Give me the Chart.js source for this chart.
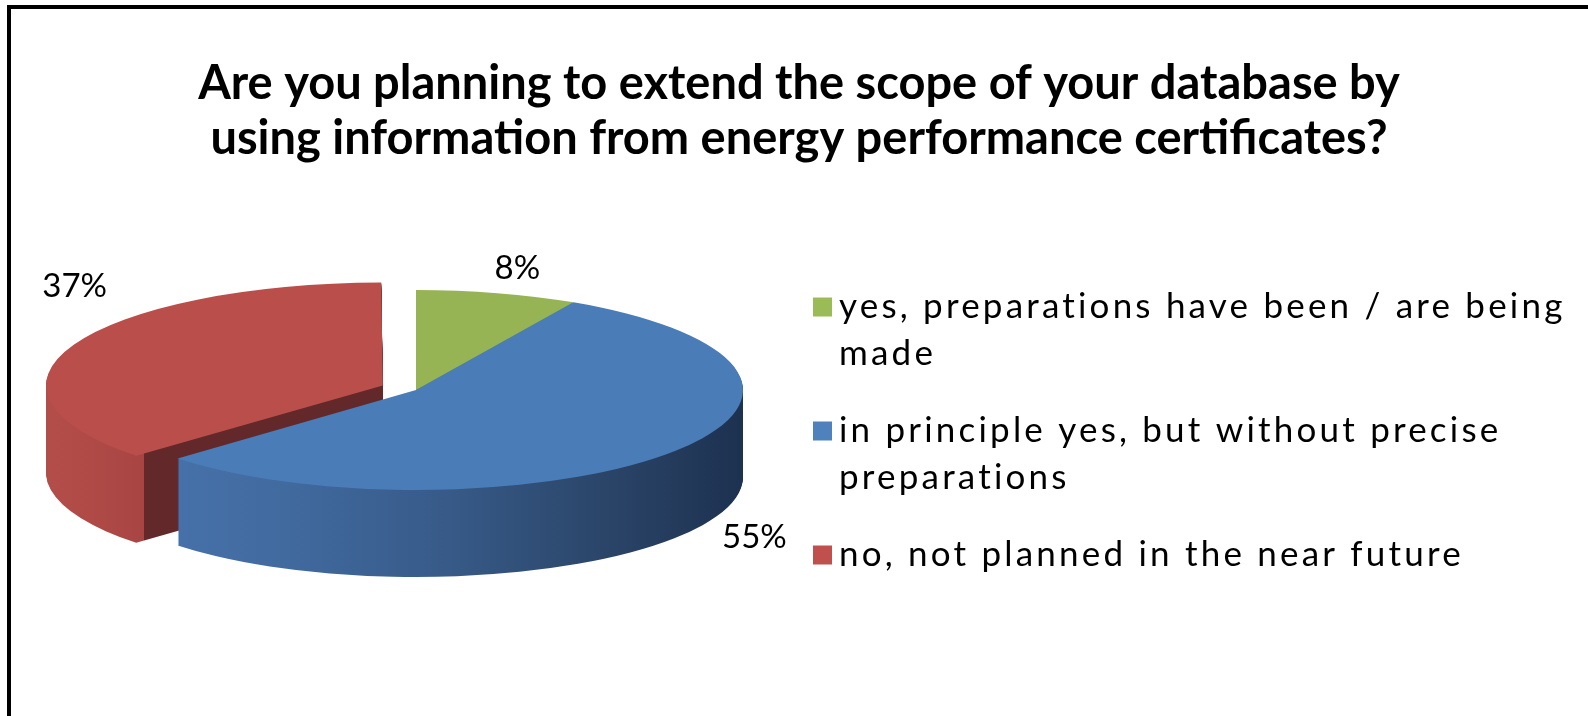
<!DOCTYPE html>
<html>
<head>
<meta charset="utf-8">
<script src="https://cdn.jsdelivr.net/npm/chart.js@4"></script>
<style>
  html, body { margin: 0; padding: 0; background: #ffffff; }
  #wrap { position: relative; width: 1588px; height: 716px; }
  canvas { display: block; }
</style>
</head>
<body>
<div id="wrap"><canvas id="c" width="1588" height="716"></canvas></div>
<script>
// ---- data ----
const categories = [
  ['yes, preparations have been / are being', 'made'],
  ['in principle yes, but without precise', 'preparations'],
  ['no, not planned in the near future']
];
const shares = [8, 55, 37];
const percentLabels = ['8%', '55%', '37%'];
const titleLines = [
  'Are you planning to extend the scope of your database by',
  'using information from energy performance certificates?'
];

// ---- styles ----
const topColors = ['#96b454', '#4a7cb7', '#b94e4b'];
const legendColors = ['#9bbb59', '#4f81bd', '#c0504d'];
const explode = [0, 0, 96];

const frame = {
  id: 'frame',
  beforeDraw(chart) {
    const ctx = chart.ctx;
    ctx.save();
    ctx.fillStyle = '#ffffff';
    ctx.fillRect(0, 0, chart.width, chart.height);
    ctx.fillStyle = '#000000';
    ctx.fillRect(7, 5, chart.width - 7, 4);
    ctx.fillRect(7, 5, 4, chart.height - 5);
    ctx.restore();
  }
};

// 3D pie drawing: the library's own arc elements are drawn through an
// elliptical projection, stacked to form the side walls.
const pie3d = {
  id: 'pie3d',
  _proj(chart) {
    const o = chart.options.plugins.pie3d;
    const arcs = chart.getDatasetMeta(0).data;
    const R = arcs[0].outerRadius;
    return { o, arcs, R, cx0: arcs[0].x, cy0: arcs[0].y, sx: o.radiusX / R, sy: o.radiusY / R };
  },
  sideFill(ctx, i, p) {
    const { cx0, R, arcs } = p;
    if (i === 1) {
      const g = ctx.createLinearGradient(cx0 - R, 0, cx0 + R, 0);
      g.addColorStop(0, '#4a77b0');
      g.addColorStop(0.3, '#416a9f');
      g.addColorStop(0.55, '#375a88');
      g.addColorStop(0.8, '#2a4467');
      g.addColorStop(1, '#1d3150');
      return g;
    }
    if (i === 2) {
      const a = arcs[2];
      const cornerX = cx0 + R * Math.cos(a.startAngle);
      const g = ctx.createLinearGradient(cx0 - R, 0, cx0 + R, 0);
      const t = Math.min(Math.max((cornerX - (cx0 - R)) / (2 * R), 0), 1);
      g.addColorStop(0, '#b34d4a');
      g.addColorStop(Math.max(t - 0.001, 0), '#a84542');
      g.addColorStop(t, '#63282a');
      g.addColorStop(1, '#63282a');
      return g;
    }
    return '#7a9446';
  },
  beforeDatasetsDraw(chart) {
    const ctx = chart.ctx;
    const p = this._proj(chart);
    const { o, arcs, cx0, cy0, sx, sy } = p;
    ctx.save();
    ctx.translate(o.centerX, o.centerY);
    ctx.scale(sx, sy);
    ctx.translate(-cx0, -cy0);
    const fills = arcs.map((a, i) => this.sideFill(ctx, i, p));
    for (let k = o.depth; k >= 1; k--) {
      ctx.save();
      ctx.translate(0, k / sy);
      arcs.forEach((arc, i) => {
        const orig = arc.options;
        arc.options = Object.assign({}, orig, { backgroundColor: fills[i], borderWidth: 0 });
        arc.draw(ctx);
        arc.options = orig;
      });
      ctx.restore();
    }
    arcs.forEach(arc => arc.draw(ctx));
    ctx.restore();
    return false;
  },
  afterDraw(chart) {
    const ctx = chart.ctx;
    const p = this._proj(chart);
    const { o, arcs, cx0, cy0, sx, sy } = p;
    ctx.save();
    ctx.font = o.labelFont;
    ctx.fillStyle = '#000000';
    ctx.textAlign = 'center';
    ctx.textBaseline = 'middle';
    arcs.forEach((arc, i) => {
      const mid = (arc.startAngle + arc.endAngle) / 2;
      const off = (arc.options.offset || 0) / 4;
      const ux = arc.x + Math.cos(mid) * (arc.outerRadius + off);
      const uy = arc.y + Math.sin(mid) * (arc.outerRadius + off);
      let x = o.centerX + (ux - cx0) * sx;
      let y = o.centerY + (uy - cy0) * sy;
      if (Math.sin(mid) > 0) y += o.depth;
      const s = o.labelShift[i];
      ctx.fillText(percentLabels[i], x + s[0], y + s[1]);
    });
    ctx.restore();
  }
};

const legend3d = {
  id: 'legend3d',
  afterDraw(chart) {
    const o = chart.options.plugins.legend3d;
    const ctx = chart.ctx;
    ctx.save();
    ctx.font = o.font;
    ctx.letterSpacing = o.letterSpacing;
    ctx.textAlign = 'left';
    ctx.textBaseline = 'middle';
    let y = o.top;
    chart.data.labels.forEach((lines, i) => {
      const arr = Array.isArray(lines) ? lines : [lines];
      ctx.fillStyle = legendColors[i];
      ctx.fillRect(o.left, y - o.box / 2, o.box, o.box);
      ctx.fillStyle = '#000000';
      arr.forEach((ln, j) => ctx.fillText(ln, o.left + o.box + o.gap, y + j * o.lineHeight));
      y += arr.length * o.lineHeight + o.itemGap;
    });
    ctx.restore();
  }
};

new Chart(document.getElementById('c'), {
  type: 'pie',
  data: {
    labels: categories,
    datasets: [{
      data: shares,
      backgroundColor: topColors,
      borderWidth: 0,
      offset: explode
    }]
  },
  options: {
    responsive: false,
    animation: false,
    devicePixelRatio: 1,
    events: [],
    layout: { padding: { left: 30, right: 20, top: 0, bottom: 10 } },
    plugins: {
      legend: { display: false },
      tooltip: { enabled: false },
      title: {
        display: true,
        text: titleLines,
        color: '#000000',
        font: { family: 'Lato', weight: 'bold', size: 47, lineHeight: 1.17 },
        padding: { top: 56, bottom: 10 }
      },
      pie3d: {
        centerX: 416, centerY: 390, radiusX: 327, radiusY: 100, depth: 87,
        labelFont: '33px Lato',
        labelShift: [[20, -25], [80, -1], [-8, -60]]
      },
      legend3d: {
        left: 813, top: 307, box: 19, gap: 7, lineHeight: 47, itemGap: 30,
        font: '35px Lato', letterSpacing: '3.2px'
      }
    }
  },
  plugins: [frame, pie3d, legend3d]
});
</script>
</body>
</html>
